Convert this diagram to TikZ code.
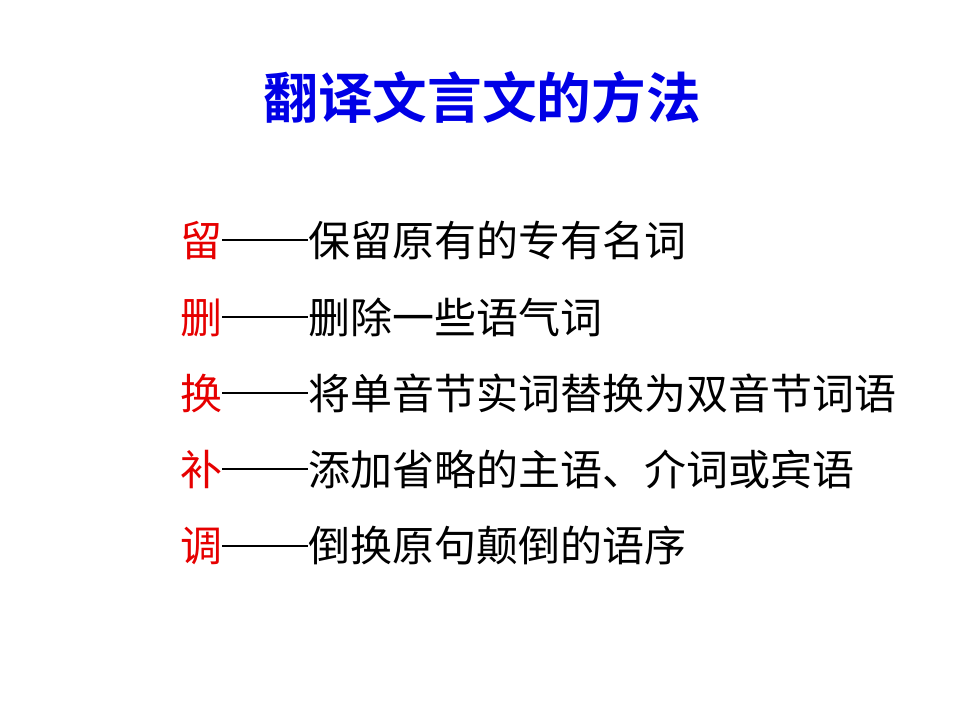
\documentclass[tikz,border=0pt]{standalone}
\usepackage{fontspec}
\newfontfamily\cjk{Noto Sans CJK SC}
\newfontfamily\cjkb{Noto Sans CJK SC Bold}
\definecolor{titleblue}{RGB}{0,0,230}
\definecolor{keyred}{RGB}{230,0,0}
\newcommand{\longdash}{\rule[0.36em]{2.05em}{0.045em}}
\tikzset{
  rowtext/.style={anchor=west,inner sep=0pt,font=\cjk\fontsize{31.5pt}{36pt}\selectfont},
  titletext/.style={inner sep=0pt,text=titleblue,font=\cjkb\fontsize{41pt}{48pt}\selectfont}
}
\begin{document}
\begin{tikzpicture}[x=0.75pt,y=0.75pt,yscale=-1,xscale=1]
\useasboundingbox (0,0) rectangle (960,720);

% Title
\node [titletext] (title) at (482,97) {翻译文言文的方法};

% Rows
\node [rowtext] (liu) at (180,240) {\textcolor{keyred}{留}\longdash 保留原有的专有名词};
\node [rowtext] (shan) at (180,317) {\textcolor{keyred}{删}\longdash 删除一些语气词};
\node [rowtext] (huan) at (180,393) {\textcolor{keyred}{换}\longdash 将单音节实词替换为双音节词语};
\node [rowtext] (bu) at (180,469) {\textcolor{keyred}{补}\longdash 添加省略的主语、介词或宾语};
\node [rowtext] (tiao) at (180,546) {\textcolor{keyred}{调}\longdash 倒换原句颠倒的语序};

\end{tikzpicture}
\end{document}
